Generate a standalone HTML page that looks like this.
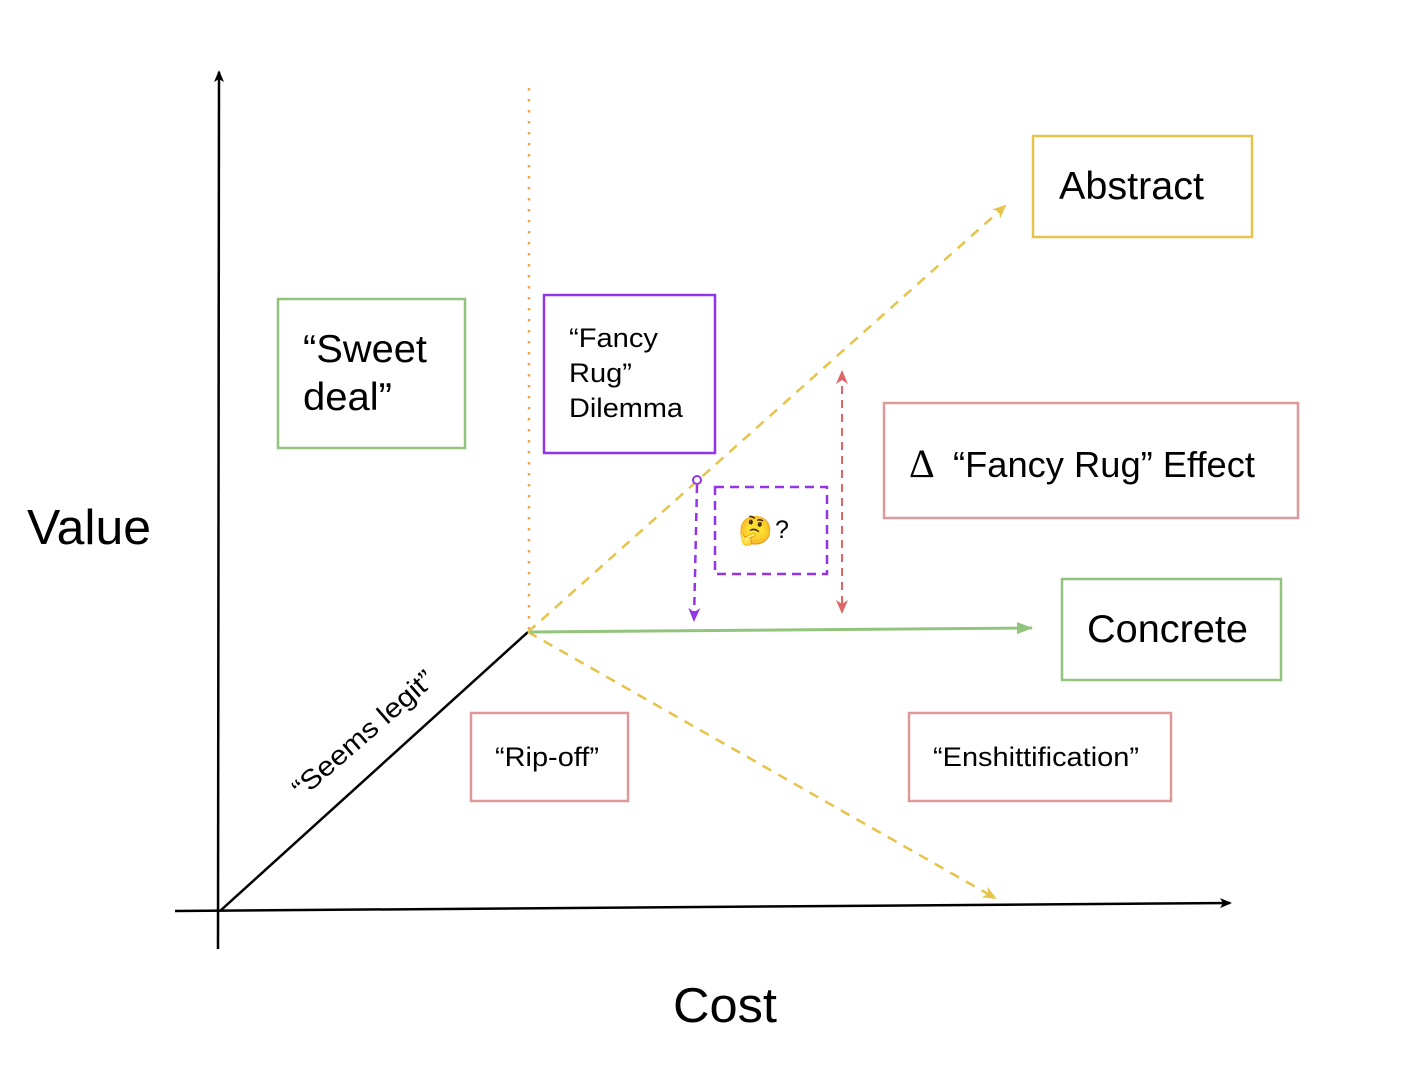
<!DOCTYPE html>
<html><head><meta charset="utf-8"><style>
html,body{margin:0;padding:0;background:#fff;}
svg{display:block;font-family:"Liberation Sans","Noto Sans CJK SC",sans-serif;}
</style></head><body>
<svg width="1402" height="1076" viewBox="0 0 1402 1076" xmlns="http://www.w3.org/2000/svg">
<defs>
<marker id="ak" markerWidth="12" markerHeight="10" refX="10" refY="5" orient="auto" markerUnits="userSpaceOnUse"><path d="M0,0 L12,5 L0,10 L3,5 z" fill="#000"/></marker>
<marker id="ay" markerWidth="14" markerHeight="12" refX="12" refY="6" orient="auto" markerUnits="userSpaceOnUse"><path d="M0,0 L14,6 L0,12 L4,6 z" fill="#e6c34a"/></marker>
<marker id="ag" markerWidth="16" markerHeight="12" refX="15" refY="6" orient="auto" markerUnits="userSpaceOnUse"><path d="M0,0 L16,6 L0,12 z" fill="#93c47d"/></marker>
<marker id="ap" markerWidth="14" markerHeight="12" refX="12" refY="6" orient="auto" markerUnits="userSpaceOnUse"><path d="M0,0 L14,6 L0,12 L4,6 z" fill="#9334e6"/></marker>
<marker id="ar" markerWidth="14" markerHeight="12" refX="12" refY="6" orient="auto-start-reverse" markerUnits="userSpaceOnUse"><path d="M0,0 L14,6 L0,12 L4,6 z" fill="#e06666"/></marker>
</defs>
<line x1="218" y1="949" x2="219" y2="72" stroke="#000" stroke-width="2.5" marker-end="url(#ak)"/>
<line x1="175" y1="911" x2="1230" y2="903" stroke="#000" stroke-width="2.5" marker-end="url(#ak)"/>
<line x1="220" y1="911" x2="528" y2="632" stroke="#000" stroke-width="2.5"/>
<line x1="529" y1="88" x2="529" y2="630" stroke="#f4a340" stroke-width="2.5" stroke-dasharray="2.5,8.5"/>
<line x1="528" y1="632" x2="1005" y2="206" stroke="#e6c34a" stroke-width="2.5" stroke-dasharray="10,8" marker-end="url(#ay)"/>
<line x1="528" y1="632" x2="995" y2="898" stroke="#e6c34a" stroke-width="2.5" stroke-dasharray="10,8" marker-end="url(#ay)"/>
<line x1="530" y1="632" x2="1032" y2="628" stroke="#93c47d" stroke-width="3" marker-end="url(#ag)"/>
<circle cx="697" cy="480" r="4" fill="#fff" stroke="#9334e6" stroke-width="2"/>
<line x1="697" y1="485" x2="694" y2="620" stroke="#9334e6" stroke-width="2.5" stroke-dasharray="8,6" marker-end="url(#ap)"/>
<rect x="715" y="487" width="112" height="87" fill="none" stroke="#9334e6" stroke-width="2.5" stroke-dasharray="9,6"/>
<text x="738" y="540" font-size="28">🤔</text><text x="775" y="538" font-size="25">?</text>
<line x1="842" y1="372" x2="842" y2="612" stroke="#e06666" stroke-width="2" stroke-dasharray="8,6" marker-start="url(#ar)" marker-end="url(#ar)"/>
<rect x="1033" y="136" width="219" height="101" fill="none" stroke="#e6c34a" stroke-width="2.5"/>
<text x="1059" y="199" font-size="39" textLength="145" lengthAdjust="spacingAndGlyphs">Abstract</text>
<rect x="278" y="299" width="187" height="149" fill="none" stroke="#93c47d" stroke-width="2.5"/>
<text x="303" y="362" font-size="39" textLength="124" lengthAdjust="spacingAndGlyphs">“Sweet</text><text x="303" y="410" font-size="39" textLength="89" lengthAdjust="spacingAndGlyphs">deal”</text>
<rect x="544" y="295" width="171" height="158" fill="none" stroke="#9334e6" stroke-width="2.5"/>
<text x="569" y="347" font-size="27" textLength="89" lengthAdjust="spacingAndGlyphs">“Fancy</text><text x="569" y="382" font-size="27" textLength="63" lengthAdjust="spacingAndGlyphs">Rug”</text><text x="569" y="417" font-size="27" textLength="114" lengthAdjust="spacingAndGlyphs">Dilemma</text>
<rect x="884" y="403" width="414" height="115" fill="none" stroke="#dd9999" stroke-width="2.5"/>
<text x="909" y="477" font-size="40" font-family="Liberation Serif,serif">Δ</text>
<text x="953" y="477" font-size="36" textLength="302" lengthAdjust="spacingAndGlyphs">“Fancy Rug” Effect</text>
<rect x="1062" y="579" width="219" height="101" fill="none" stroke="#93c47d" stroke-width="2.5"/>
<text x="1087" y="642" font-size="39" textLength="161" lengthAdjust="spacingAndGlyphs">Concrete</text>
<rect x="471" y="713" width="157" height="88" fill="none" stroke="#dd9999" stroke-width="2.5"/>
<text x="495" y="766" font-size="27" textLength="104" lengthAdjust="spacingAndGlyphs">“Rip-off”</text>
<rect x="909" y="713" width="262" height="88" fill="none" stroke="#dd9999" stroke-width="2.5"/>
<text x="933" y="766" font-size="27" textLength="206" lengthAdjust="spacingAndGlyphs">“Enshittification”</text>
<text x="27" y="544" font-size="49" textLength="124" lengthAdjust="spacingAndGlyphs">Value</text>
<text x="673" y="1022" font-size="49" textLength="104" lengthAdjust="spacingAndGlyphs">Cost</text>
<text x="0" y="0" font-size="27" textLength="178" lengthAdjust="spacingAndGlyphs" transform="translate(302,799) rotate(-41)">“Seems legit”</text>
</svg>
</body></html>
